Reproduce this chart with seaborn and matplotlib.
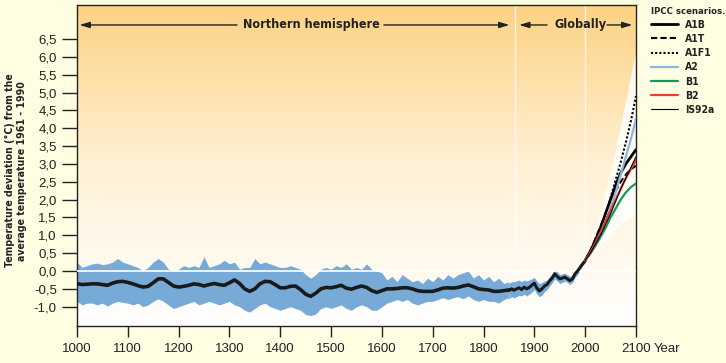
import numpy as np
import pandas as pd
import matplotlib.pyplot as plt
import seaborn as sns
from matplotlib import font_manager
from matplotlib.font_manager import FontProperties
from matplotlib.colors import LinearSegmentedColormap

# Northern hemisphere reconstruction, every 10 years 1000-1850
recon_years = list(range(1000, 1851, 10))
recon_mean = [-0.35, -0.38, -0.37, -0.36, -0.36, -0.38, -0.40, -0.34, -0.30, -0.29,
              -0.32, -0.36, -0.41, -0.45, -0.43, -0.33, -0.22, -0.22, -0.32, -0.42,
              -0.45, -0.43, -0.40, -0.36, -0.38, -0.42, -0.38, -0.35, -0.38, -0.40,
              -0.33, -0.25, -0.35, -0.50, -0.57, -0.50, -0.36, -0.29, -0.30, -0.38,
              -0.47, -0.47, -0.43, -0.42, -0.52, -0.65, -0.71, -0.62, -0.50, -0.46,
              -0.47, -0.44, -0.40, -0.48, -0.51, -0.46, -0.42, -0.46, -0.55, -0.60,
              -0.55, -0.50, -0.50, -0.49, -0.47, -0.47, -0.50, -0.55, -0.57, -0.57,
              -0.57, -0.53, -0.48, -0.47, -0.48, -0.46, -0.42, -0.39, -0.44, -0.50,
              -0.52, -0.53, -0.57, -0.57, -0.55, -0.53]
recon_upper = [0.25, 0.10, 0.15, 0.20, 0.22, 0.18, 0.20, 0.25, 0.35, 0.25,
               0.20, 0.15, 0.10, 0.00, 0.10, 0.25, 0.35, 0.25, 0.05, 0.00,
               0.05, 0.15, 0.10, 0.15, 0.10, 0.40, 0.10, 0.15, 0.20, 0.30,
               0.20, 0.25, 0.05, 0.10, 0.10, 0.35, 0.20, 0.25, 0.20, 0.15,
               0.10, 0.10, 0.15, 0.10, 0.05, -0.10, -0.20, -0.10, 0.05, 0.10,
               0.05, 0.15, 0.10, 0.20, 0.05, 0.10, 0.05, 0.20, 0.05, 0.00,
               -0.05, -0.25, -0.15, -0.30, -0.10, -0.20, -0.30, -0.25, -0.35, -0.20,
               -0.30, -0.15, -0.25, -0.10, -0.20, -0.10, -0.05, 0.00, -0.20, -0.10,
               -0.25, -0.15, -0.30, -0.20, -0.35, -0.30]
recon_lower = [-0.85, -0.95, -0.90, -0.90, -0.95, -0.90, -0.98, -0.90, -0.85, -0.88,
               -0.90, -0.95, -0.90, -1.00, -0.95, -0.85, -0.78, -0.85, -0.95, -1.05,
               -1.00, -0.95, -0.90, -0.85, -0.95, -0.90, -0.85, -0.90, -0.95, -0.90,
               -0.85, -0.95, -1.00, -1.10, -1.15, -1.05, -0.95, -0.90, -1.00, -1.05,
               -1.10, -1.05, -1.00, -1.05, -1.10, -1.22, -1.25, -1.20, -1.05, -1.00,
               -1.05, -1.00, -0.95, -1.05, -1.10, -1.00, -0.95, -1.00, -1.10, -1.10,
               -1.00, -0.90, -0.85, -0.80, -0.85, -0.80, -0.90, -0.95, -0.90, -0.85,
               -0.85, -0.80, -0.75, -0.80, -0.75, -0.72, -0.78, -0.70, -0.80, -0.85,
               -0.80, -0.85, -0.85, -0.90, -0.80, -0.75]

# instrumental record, every 5 years 1850-2000
instr_years = list(range(1850, 2001, 5))
instr_mean = [-0.55, -0.50, -0.54, -0.50, -0.47, -0.52, -0.45, -0.50, -0.46, -0.40,
              -0.34, -0.48, -0.56, -0.50, -0.42, -0.38, -0.28, -0.20, -0.08, -0.15,
              -0.22, -0.20, -0.17, -0.22, -0.27, -0.22, -0.08, 0.00, 0.10, 0.20, 0.28]
instr_upper = [-0.35, -0.30, -0.30, -0.28, -0.25, -0.30, -0.25, -0.28, -0.25, -0.22,
               -0.18, -0.28, -0.35, -0.32, -0.28, -0.25, -0.15, -0.08, 0.05, -0.02,
               -0.10, -0.08, -0.06, -0.10, -0.15, -0.12, 0.00, 0.08, 0.15, 0.25, 0.32]
instr_lower = [-0.78, -0.72, -0.75, -0.72, -0.68, -0.70, -0.65, -0.70, -0.65, -0.60,
               -0.52, -0.65, -0.72, -0.68, -0.58, -0.52, -0.42, -0.33, -0.22, -0.28,
               -0.35, -0.32, -0.28, -0.32, -0.38, -0.32, -0.18, -0.10, 0.03, 0.15, 0.24]

# IPCC scenario projections, every 10 years 2000-2100
proj_years = list(range(2000, 2101, 10))
a1b = [0.30, 0.55, 0.85, 1.20, 1.60, 2.00, 2.40, 2.75, 3.00, 3.20, 3.40]
a1t = [0.30, 0.55, 0.90, 1.25, 1.60, 1.95, 2.25, 2.50, 2.70, 2.85, 2.95]
a1f1 = [0.30, 0.55, 0.85, 1.20, 1.60, 2.05, 2.55, 3.05, 3.60, 4.20, 4.90]
a2 = [0.30, 0.50, 0.75, 1.05, 1.40, 1.80, 2.20, 2.70, 3.20, 3.70, 4.25]
b1 = [0.30, 0.48, 0.70, 0.95, 1.20, 1.50, 1.75, 2.00, 2.20, 2.35, 2.45]
b2 = [0.30, 0.50, 0.78, 1.08, 1.40, 1.70, 2.00, 2.30, 2.60, 2.85, 3.10]
is92a = [0.30, 0.50, 0.75, 1.00, 1.30, 1.60, 1.95, 2.30, 2.60, 2.90, 3.20]
env_upper = [0.35, 0.70, 1.15, 1.65, 2.20, 2.80, 3.45, 4.10, 4.80, 5.50, 6.20]
env_lower = [0.28, 0.40, 0.55, 0.70, 0.85, 1.00, 1.15, 1.30, 1.42, 1.52, 1.58]

y_ticks = [-1.0, -0.5, 0.0, 0.5, 1.0, 1.5, 2.0, 2.5, 3.0, 3.5, 4.0, 4.5, 5.0, 5.5, 6.0, 6.5]
x_ticks = list(range(1000, 2101, 100))

sns.set_style("ticks")
plt.rcParams['font.family'] = ['Liberation Sans', 'DejaVu Sans']


def heading_font(size):
    # narrow bold face if one is installed, else a fairly narrow bold sans
    for f in font_manager.fontManager.ttflist:
        narrowish = ('Narrow' in f.name or 'Condensed' in f.name
                     or 'condensed' in str(f.stretch))
        if narrowish and f.weight in ('bold', 700, 'heavy', 800):
            return FontProperties(fname=f.fname, size=size)
    return FontProperties(family=['Lato', 'Liberation Sans', 'DejaVu Sans'],
                          weight='bold', size=size * 0.85)


bg = '#fffde2'
fig = plt.figure(figsize=(7.26, 3.63), dpi=100, facecolor=bg)
ax = fig.add_axes([0.106, 0.102, 0.770, 0.884])
ax.set_xlim(1000, 2100)
ax.set_ylim(-1.54, 7.45)

# background gradient
cmap = LinearSegmentedColormap.from_list('bg', ['#ffffff', '#fff1d6', '#fdd283'])
grad = np.linspace(0, 1, 256).reshape(-1, 1)
ax.imshow(grad, cmap=cmap, origin='lower', aspect='auto',
          extent=[1000, 2100, -1.54, 7.45], zorder=0)

ax.axhline(0, color='white', lw=1.2, zorder=3)
for xv in [1862, 2000]:
    ax.axvline(xv, color='white', lw=1.0, alpha=0.8, zorder=1)

blue = '#78aad8'
ax.fill_between(recon_years, recon_lower, recon_upper, color=blue, lw=0, zorder=2)
ax.fill_between(instr_years, instr_lower, instr_upper, color=blue, lw=0, zorder=2)
ax.fill_between(proj_years, env_lower, env_upper, color='white', alpha=0.85, lw=0, zorder=2)

recon = pd.DataFrame({'year': recon_years, 'temp': recon_mean})
instr = pd.DataFrame({'year': instr_years, 'temp': instr_mean})
sns.lineplot(data=recon, x='year', y='temp', color='#1a1a1a', lw=2.6, ax=ax, zorder=4)
sns.lineplot(data=instr, x='year', y='temp', color='#1a1a1a', lw=2.2, ax=ax, zorder=4)

scenarios = [
    ('A1B', a1b, dict(color='black', lw=2.0, ls='-')),
    ('A1T', a1t, dict(color='black', lw=1.5, ls=(0, (3, 1.5)))),
    ('A1F1', a1f1, dict(color='black', lw=1.5, ls=(0, (1, 1)))),
    ('A2', a2, dict(color='#8cb8de', lw=1.6, ls='-')),
    ('B1', b1, dict(color='#17975a', lw=1.6, ls='-')),
    ('B2', b2, dict(color='#e8412b', lw=1.6, ls='-')),
    ('IS92a', is92a, dict(color='black', lw=0.8, ls='-')),
]
handles = []
for name, vals, style in scenarios:
    df = pd.DataFrame({'year': proj_years, 'temp': vals})
    sns.lineplot(data=df, x='year', y='temp', ax=ax, zorder=5, **style)
    handles.append(ax.lines[-1])

ax.set_xlabel('')
ax.set_ylabel('')
ax.set_xticks(x_ticks)
ax.set_yticks(y_ticks)
ax.set_yticklabels([f'{v:.1f}'.replace('.', ',') for v in y_ticks])
ax.tick_params(axis='y', length=11, width=1, pad=3.5, labelsize=9.5, colors='#222222')
ax.tick_params(axis='x', length=8, width=1, pad=4, labelsize=9.5, colors='#222222')
for s in ax.spines.values():
    s.set_color('#222222')
    s.set_linewidth(1.0)

fig.text(0.022, 0.53, 'Temperature deviation (°C) from the\naverage temperature 1961 - 1990',
         rotation=90, ha='center', va='center', fontproperties=heading_font(7.6),
         color='#222222', linespacing=1.15)
ax.text(1.055, -0.073, 'Year', transform=ax.transAxes, ha='center', va='center',
        fontsize=9.5, color='#222222')

# period arrows
arrow = dict(arrowstyle='-|>,head_length=0.6,head_width=0.18', color='#222222',
             lw=1.0, shrinkA=0, shrinkB=0)
ya = 0.938
ax.annotate('', xy=(1005, ya), xytext=(1315, ya), xycoords=('data', 'axes fraction'),
            textcoords=('data', 'axes fraction'), arrowprops=arrow, zorder=6)
ax.annotate('', xy=(1851, ya), xytext=(1604, ya), xycoords=('data', 'axes fraction'),
            textcoords=('data', 'axes fraction'), arrowprops=arrow, zorder=6)
ax.text(1462, ya, 'Northern hemisphere', transform=ax.get_xaxis_transform(),
        ha='center', va='center', fontproperties=heading_font(9), color='#222222')
ax.annotate('', xy=(1870, ya), xytext=(1925, ya), xycoords=('data', 'axes fraction'),
            textcoords=('data', 'axes fraction'), arrowprops=arrow, zorder=6)
ax.annotate('', xy=(2093, ya), xytext=(2043, ya), xycoords=('data', 'axes fraction'),
            textcoords=('data', 'axes fraction'), arrowprops=arrow, zorder=6)
ax.text(1990, ya, 'Globally', transform=ax.get_xaxis_transform(),
        ha='center', va='center', fontproperties=heading_font(9), color='#222222')

leg = ax.legend(handles, [s[0] for s in scenarios], title='IPCC scenarios.',
                loc='upper left', bbox_to_anchor=(1.019, 1.008), frameon=False,
                handlelength=2.6, handletextpad=0.67, labelspacing=0.4,
                borderaxespad=0, alignment='left',
                prop=heading_font(7.5), title_fontproperties=heading_font(6.8))
for t in leg.get_texts():
    t.set_color('#222222')
leg.get_title().set_color('#222222')

fig.savefig('out.png', dpi=100, facecolor=bg)
